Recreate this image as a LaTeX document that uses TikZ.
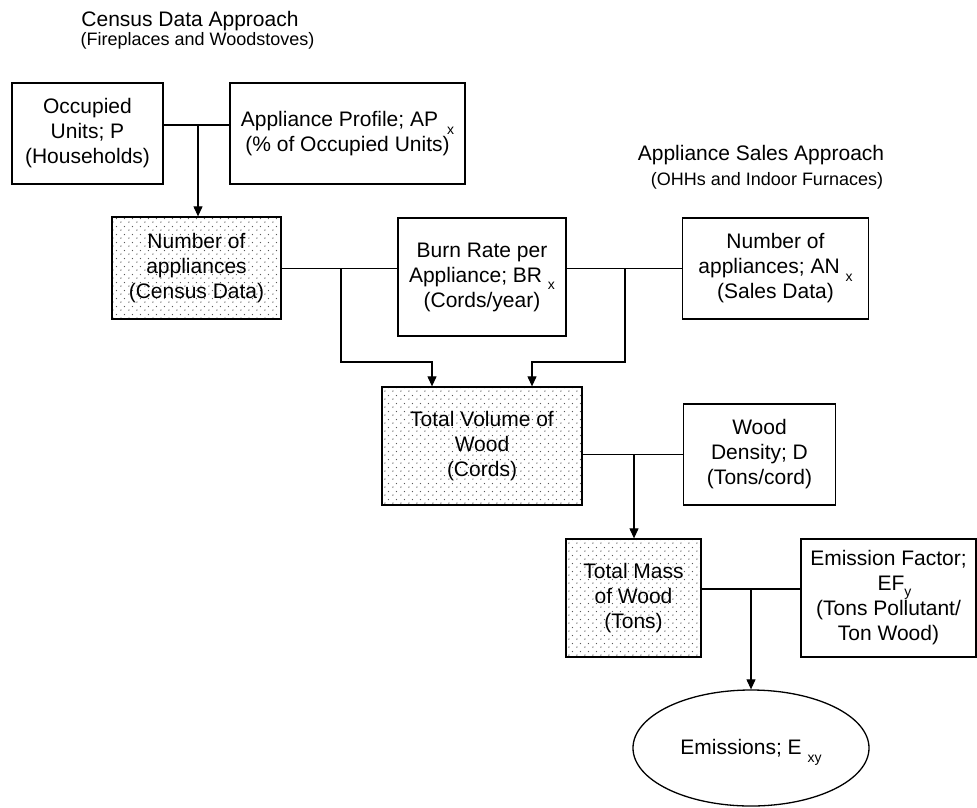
\documentclass[tikz,border=0pt]{standalone}
\usepackage{fontspec}
\setmainfont{Liberation Sans}
\usetikzlibrary{arrows.meta,patterns.meta,shapes.geometric}

\tikzdeclarepattern{
  name=sparsedots,
  type=uncolored,
  bottom left={(0pt,0pt)},
  top right={(8pt,8pt)},
  tile size={(8pt,8pt)},
  code={\fill (1pt,1pt) circle (0.8pt); \fill (5pt,5pt) circle (0.8pt);}
}

\newcommand\mainfnt{\fontsize{21}{25}\selectfont}
\newcommand\subtfnt{\fontsize{18}{22}\selectfont}
\newcommand\subfnt{\fontsize{14}{14}\selectfont}
\newcommand\lowsub[2]{\raisebox{-#1}[0pt][0pt]{\subfnt #2}}

\tikzset{
  box/.style={draw, line width=1.3pt, rectangle, inner sep=0pt, align=center, font=\mainfnt},
  dotbox/.style={box, pattern=sparsedots, pattern color=black!65},
  link/.style={line width=1.1pt},
  arr/.style={link, -{Triangle[length=10pt,width=9pt]}},
  title/.style={anchor=base, inner sep=0pt},
}

\begin{document}
\begin{tikzpicture}[x=1pt,y=-1pt]
\useasboundingbox (0,0) rectangle (977,807);

% titles
\node[title, font=\mainfnt] (t1) at (190,26.7) {Census Data Approach};
\node[title, font=\subtfnt] (t2) at (197.5,45) {(Fireplaces and Woodstoves)};
\node[title, font=\mainfnt] (t3) at (761,160.7) {Appliance Sales Approach};
\node[title, font=\subtfnt] (t4) at (767,185) {(OHHs and Indoor Furnaces)};

% boxes
\node[box, minimum width=151pt, minimum height=101pt] (occ) at (87.5,133.5)
  {Occupied\\Units; P\\(Households)};
\node[box, minimum width=235pt, minimum height=101pt] (ap) at (347.5,133.5)
  {Appliance Profile; AP\hspace{9pt}\lowsub{8pt}{x}\\(\% of Occupied Units)};
\node[dotbox, minimum width=169pt, minimum height=102pt] (num) at (196.5,268)
  {Number of\\appliances\\(Census Data)};
\node[box, minimum width=168pt, minimum height=118pt] (br) at (482,277)
  {Burn Rate per\\Appliance; BR \lowsub{7pt}{x}\\(Cords/year)};
\node[box, minimum width=186pt, minimum height=101pt] (an) at (775.5,268.5)
  {Number of\\appliances; AN \lowsub{8pt}{x}\\(Sales Data)};
\node[dotbox, minimum width=200pt, minimum height=118pt] (vol) at (482,446)
  {Total Volume of\\Wood\\(Cords)};
\node[box, minimum width=152pt, minimum height=101pt] (wd) at (759.5,454.5)
  {Wood\\Density; D\\(Tons/cord)};
\node[dotbox, minimum width=135pt, minimum height=118pt] (mass) at (633.5,598)
  {Total Mass\\of Wood\\(Tons)};
\node[box, minimum width=175pt, minimum height=118pt] (ef) at (888.5,598)
  {Emission Factor;\\\hspace*{12pt}EF\lowsub{6pt}{y}\\(Tons Pollutant/\\Ton Wood)};
\node[draw, line width=1.3pt, ellipse, inner sep=0pt, minimum width=236pt, minimum height=116pt, font=\mainfnt] (em) at (751,748)
  {Emissions; E \lowsub{8pt}{xy}};

% junction coordinates
\coordinate (j1) at (198,125);
\coordinate (ja) at (341,268.5);
\coordinate (jb) at (625,268.5);
\coordinate (ka) at (432,362);
\coordinate (kb) at (532,362);
\coordinate (j3) at (634,454.5);
\coordinate (j4) at (751,589);

% connectors
\draw[link] (occ.east |- j1) -- (ap.west |- j1);
\draw[arr] (j1) -- (j1 |- num.north);

\draw[link] (num.east |- ja) -- (br.west |- ja);
\draw[link] (br.east |- jb) -- (an.west |- jb);
\draw[arr] (ja) |- (ka) -- (ka |- vol.north);
\draw[arr] (jb) |- (kb) -- (kb |- vol.north);

\draw[link] (vol.east |- j3) -- (wd.west |- j3);
\draw[arr] (j3) -- (j3 |- mass.north);

\draw[link] (mass.east |- j4) -- (ef.west |- j4);
\draw[arr] (j4) -- (em.north);
\end{tikzpicture}
\end{document}
